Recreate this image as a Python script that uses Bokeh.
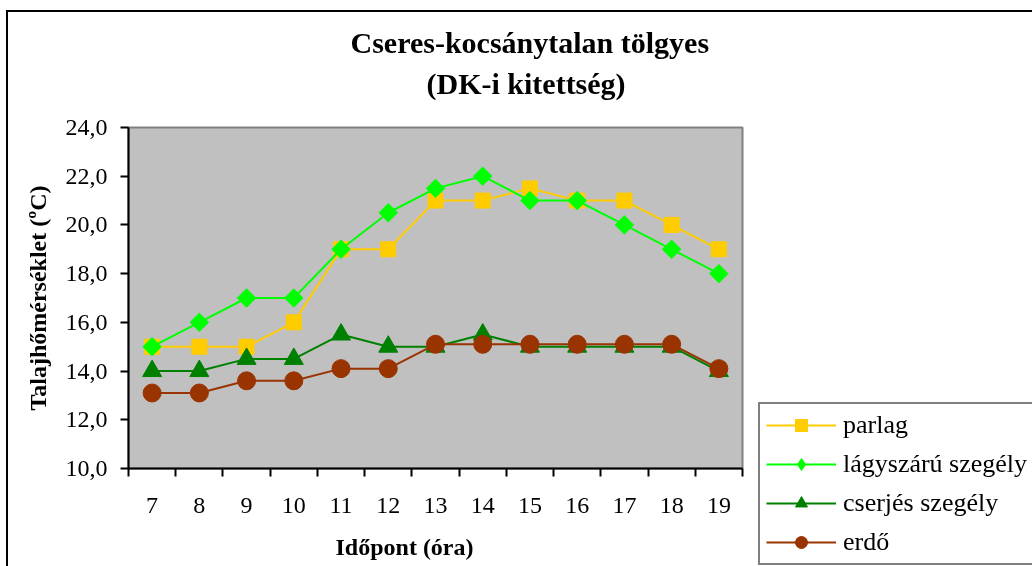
from bokeh.plotting import figure
from bokeh.models import (FixedTicker, CustomJSTickFormatter, Legend, LegendItem, Title)
from bokeh.embed import file_html
from bokeh.resources import INLINE
import numpy as np

hours = [7, 8, 9, 10, 11, 12, 13, 14, 15, 16, 17, 18, 19]
parlag = [15, 15, 15, 16, 19, 19, 21, 21, 21.5, 21, 21, 20, 19]
lagyszaru = [15, 16, 17, 17, 19, 20.5, 21.5, 22, 21, 21, 20, 19, 18]
cserjes = [14, 14, 14.5, 14.5, 15.5, 15, 15, 15.5, 15, 15, 15, 15, 14]
erdo = [13.1, 13.1, 13.6, 13.6, 14.1, 14.1, 15.1, 15.1, 15.1, 15.1, 15.1, 15.1, 14.1]
series_names = ["parlag", "lágyszárú szegély", "cserjés szegély", "erdő"]
y_ticks = [10, 12, 14, 16, 18, 20, 22, 24]
title1 = "Cseres-kocsánytalan tölgyes"
title2 = "(DK-i kitettség)"
x_label = "Időpont (óra)"
y_label = "Talajhőmérséklet (ºC)"

FONT = "Liberation Serif"

p = figure(frame_width=614, frame_height=341, output_backend="svg", toolbar_location=None,
           x_range=(6.5, 19.5), y_range=(10, 24),
           min_border_left=120, min_border_right=288, min_border_top=115, min_border_bottom=96,
           background_fill_color="#C0C0C0", border_fill_color="white")
p.styles = {"position": "fixed", "left": "6px", "top": "10px",
            "border-left": "2px solid black", "border-top": "2px solid black"}
p.outline_line_color = "#808080"
p.outline_line_width = 2
p.xgrid.visible = False
p.ygrid.visible = False

# titles (added nearest-first)
t2 = Title(text=title2, align="left", offset=298, text_font=FONT, text_font_size="30px",
           text_font_style="bold", text_color="black", standoff=56)
t1 = Title(text=title1, align="left", offset=222, text_font=FONT, text_font_size="30px",
           text_font_style="bold", text_color="black", standoff=-44)
p.add_layout(t2, "above")
p.add_layout(t1, "above")

# x axis
xa = p.xaxis[0]
xa.ticker = FixedTicker(ticks=hours, minor_ticks=[h - 0.5 for h in hours] + [hours[-1] + 0.5])
xa.major_tick_line_color = None
xa.major_tick_out = 0
xa.major_tick_in = 0
xa.minor_tick_line_color = "black"
xa.minor_tick_line_width = 2
xa.minor_tick_out = 8
xa.minor_tick_in = 0
xa.axis_line_color = "black"
xa.axis_line_width = 2
xa.major_label_text_font = FONT
xa.major_label_text_font_size = "24px"
xa.major_label_text_color = "black"
xa.major_label_standoff = 21

xl = Title(text=x_label, align="left", offset=207, text_font=FONT, text_font_size="24px",
           text_font_style="bold", text_color="black", standoff=32)
p.add_layout(xl, "below")

# y axis
ya = p.yaxis[0]
ya.ticker = FixedTicker(ticks=y_ticks, minor_ticks=[])
ya.formatter = CustomJSTickFormatter(code="return tick.toFixed(1).replace('.', ',');")
ya.major_tick_line_color = "black"
ya.major_tick_line_width = 2
ya.major_tick_out = 8
ya.major_tick_in = 0
ya.minor_tick_line_color = None
ya.axis_line_color = "black"
ya.axis_line_width = 2
ya.major_label_text_font = FONT
ya.major_label_text_font_size = "24px"
ya.major_label_text_color = "black"
ya.major_label_standoff = 13
ya.axis_label = y_label
ya.axis_label_text_font = FONT
ya.axis_label_text_font_size = "24px"
ya.axis_label_text_font_style = "bold"
ya.axis_label_text_color = "black"
ya.axis_label_standoff = 12

colors = ["#FFCC00", "#00FF00", "#008000", "#993300"]
markers = [("square", 15, 0.0), ("square", 13, np.pi / 4), ("triangle", 19, 0.0), ("circle", 18, 0.0)]
legend_markers = ["square", "diamond", "triangle", "circle"]
data = [parlag, lagyszaru, cserjes, erdo]

items = []
for name, vals, col, (mk, sz, ang), lmk in zip(series_names, data, colors, markers, legend_markers):
    lr = p.line(hours, vals, line_color=col, line_width=2)
    sr = p.scatter(hours, vals, marker=mk, size=sz, angle=ang, fill_color=col, line_color=col)
    if lmk != mk:
        # legend-only glyph with the legend's marker shape
        sr = p.scatter(hours, vals, marker=lmk, size=sz, fill_color=col, line_color=col, visible=False)
    items.append(LegendItem(label=name, renderers=[lr, sr]))

legend = Legend(items=items, location=(16, -97), orientation="vertical",
                label_text_font=FONT, label_text_font_size="26px", label_text_color="black",
                glyph_width=70, glyph_height=30, label_height=30, spacing=9, padding=6,
                margin=0, label_standoff=7,
                border_line_color="black", border_line_width=2,
                background_fill_color="white", background_fill_alpha=1.0)
p.add_layout(legend, "right")

open("out.html", "w").write(file_html(p, INLINE))
